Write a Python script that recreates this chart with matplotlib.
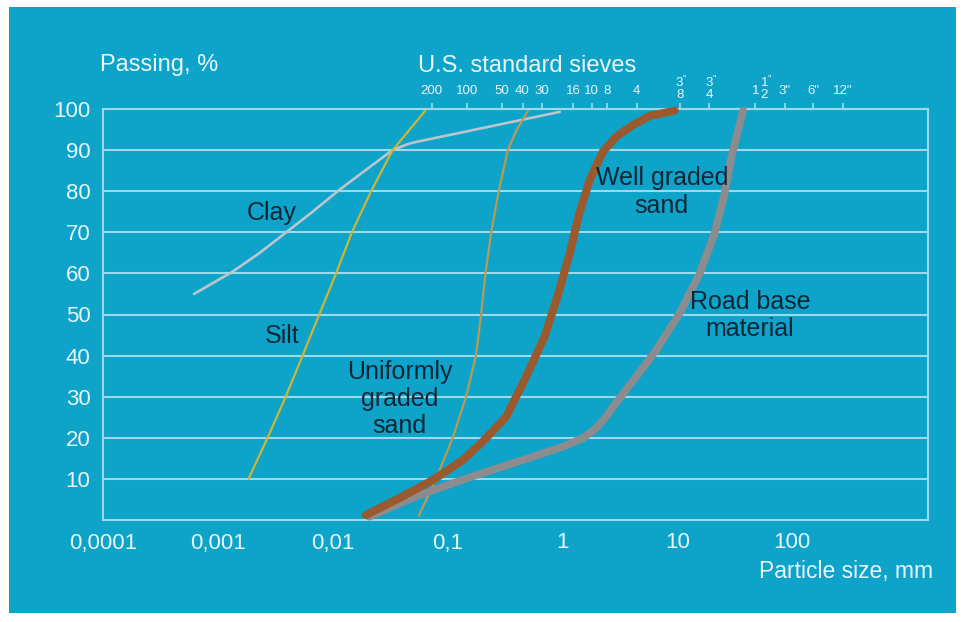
import matplotlib
matplotlib.use("Agg")
import matplotlib.pyplot as plt
from matplotlib.patches import Rectangle
from matplotlib.ticker import FixedLocator, NullLocator
from matplotlib.transforms import offset_copy

plt.rcParams['font.family'] = ['Liberation Sans', 'DejaVu Sans']

# Grain size distribution curves: particle size (mm) vs. percent passing
clay_d = [0.00062, 0.00134, 0.00229, 0.0039, 0.00668, 0.0114, 0.0195, 0.0332, 0.0435, 0.0497, 0.95]
clay_p = [55, 60.4, 64.9, 69.9, 75, 80.3, 85.2, 90, 91.3, 91.8, 99.3]

silt_d = [0.00185, 0.00271, 0.0039, 0.00547, 0.00764, 0.0107, 0.0147, 0.0216, 0.0333, 0.0641]
silt_p = [10, 20, 30, 40, 50, 60, 70, 80, 90, 99.6]

uniform_d = [0.0561, 0.0794, 0.111, 0.145, 0.177, 0.196, 0.214, 0.240, 0.279, 0.335, 0.40, 0.50]
uniform_p = [1, 10, 20, 30, 40, 50, 60, 70, 80, 90, 94.9, 99.5]

well_d = [0.0195, 0.038, 0.0743, 0.135, 0.203, 0.324, 0.484, 0.70, 0.914, 1.16, 1.41, 1.73,
          2.25, 2.95, 4.12, 5.75, 9.5]
well_p = [1.2, 5.3, 9.7, 14.5, 19.1, 25.1, 34.9, 44.6, 54.7, 64.9, 74.8, 82.7,
          89.6, 93.3, 96.1, 98.3, 99.6]

road_d = [0.0208, 0.053, 0.145, 0.453, 1.0, 1.51, 1.98, 2.41, 2.95, 4.41, 6.59, 10.5,
          15.7, 21.2, 25.9, 29.7, 37.5]
road_p = [0.8, 5.7, 10.1, 14.6, 17.8, 19.9, 22.4, 25.2, 28.6, 34.9, 41.4, 50.3,
          60, 69.8, 79.5, 88.4, 99.6]

# Axis ticks
size_ticks = [1e-4, 1e-3, 1e-2, 1e-1, 1, 10, 100]
size_labels = ['0,0001', '0,001', '0,01', '0,1', '1', '10', '100']
pass_ticks = [10, 20, 30, 40, 50, 60, 70, 80, 90, 100]

# U.S. standard sieve marks along the size scale (mm) and their designations
sieve_mm = [0.073, 0.147, 0.296, 0.45, 0.66, 1.25, 1.8, 2.43, 4.45, 10.5, 19.0, 48.0, 86.0, 152.0, 278.0]
sieve_labels = ['200', '100', '50', '40', '30', '16', '10', '8', '4',
                '3/8"', '3/4"', '1 1/2"', '3"', '6"', '12"']

BG = '#0ea3c9'
GRID = '#9bd9ec'
LIGHT = '#e9f6fa'
DARK = '#0c2638'

fig = plt.figure(figsize=(9.68, 6.22), dpi=100, facecolor='white')
W, H = 968, 622
fig.patches.append(Rectangle((9 / W, 1 - 613 / H), (956 - 9) / W, (613 - 7) / H,
                             transform=fig.transFigure, facecolor=BG,
                             edgecolor='none', zorder=-10))

ax = fig.add_axes([103 / W, 1 - 520 / H, (928 - 103) / W, (520 - 109) / H])
ax.set_facecolor(BG)
ax.set_xscale('log')
ax.set_xlim(1e-4, 10 ** 3.184)
ax.set_ylim(0, 100)

for s in ax.spines.values():
    s.set_color(GRID)
    s.set_linewidth(1.5)

ax.xaxis.set_major_locator(FixedLocator(size_ticks))
ax.xaxis.set_minor_locator(NullLocator())
ax.set_xticklabels(size_labels)
ax.set_yticks(pass_ticks)
ax.set_yticklabels([str(v) for v in pass_ticks])
ax.tick_params(axis='both', length=0, labelcolor=LIGHT, labelsize=16)
ax.tick_params(axis='x', pad=9)
ax.tick_params(axis='y', pad=9)
ax.yaxis.grid(True, color=GRID, linewidth=1.5)
ax.set_axisbelow(True)

# Grading curves
line_kw = dict(solid_capstyle='round', solid_joinstyle='round', clip_on=False, zorder=3)
ax.plot(clay_d, clay_p, color='#b9c6cc', lw=1.9, **line_kw)
ax.plot(silt_d, silt_p, color='#cdb536', lw=1.6, **line_kw)
ax.plot(uniform_d, uniform_p, color='#b99a55', lw=1.6, **line_kw)
ax.plot(road_d, road_p, color='#8c8c8e', lw=5.5, **line_kw)
ax.plot(well_d, well_p, color='#9b5a2e', lw=5.8, **line_kw)

# Curve names
lab_kw = dict(color=DARK, fontsize=18, ha='center', va='center', linespacing=1.17, zorder=4)
ax.text(0.00292, 74.7, 'Clay', **lab_kw)
ax.text(0.0036, 44.8, 'Silt', **lab_kw)
ax.text(0.0381, 29.4, 'Uniformly\ngraded\nsand', **lab_kw)
ax.text(7.33, 79.8, 'Well graded\nsand', **lab_kw)
ax.text(42.9, 49.8, 'Road base\nmaterial', **lab_kw)

# Sieve scale along the top
top = ax.twiny()
top.set_xscale('log')
top.set_xlim(ax.get_xlim())
top.xaxis.set_major_locator(FixedLocator(sieve_mm))
top.xaxis.set_minor_locator(NullLocator())
top.set_xticklabels([])
top.tick_params(axis='x', direction='out', length=4.5, width=1.2, color=GRID)
for s in top.spines.values():
    s.set_visible(False)

xt = ax.get_xaxis_transform()
sv_kw = dict(color=LIGHT, fontsize=9.5, ha='center', va='center')
for mm, lab in zip(sieve_mm, sieve_labels):
    if '/' in lab:
        parts = lab.rstrip('"').split(' ')
        whole = parts[0] if len(parts) == 2 else ''
        num, den = parts[-1].split('/')
        dx = 0
        if whole:
            ax.text(mm, 1.0, whole,
                    transform=offset_copy(xt, fig=fig, x=0, y=18, units='dots'), **sv_kw)
            dx = 9
        ax.text(mm, 1.0, num + '\n' + den, linespacing=1.05,
                transform=offset_copy(xt, fig=fig, x=dx, y=20, units='dots'), **sv_kw)
        ax.text(mm, 1.0, '"', fontsize=7, color=LIGHT, ha='center', va='center',
                transform=offset_copy(xt, fig=fig, x=dx + 5, y=29, units='dots'))
    else:
        ax.text(mm, 1.0, lab,
                transform=offset_copy(xt, fig=fig, x=0, y=18, units='dots'), **sv_kw)

# Axis titles
fig.text(100 / W, 1 - 71.5 / H, 'Passing, %', color=LIGHT, fontsize=17, ha='left', va='baseline')
fig.text(418 / W, 1 - 71.5 / H, 'U.S. standard sieves', color=LIGHT, fontsize=17,
         ha='left', va='baseline')
fig.text(933 / W, 1 - 578 / H, 'Particle size, mm', color=LIGHT, fontsize=16.5,
         ha='right', va='baseline')

fig.savefig('out.png', dpi=100, facecolor='white')
